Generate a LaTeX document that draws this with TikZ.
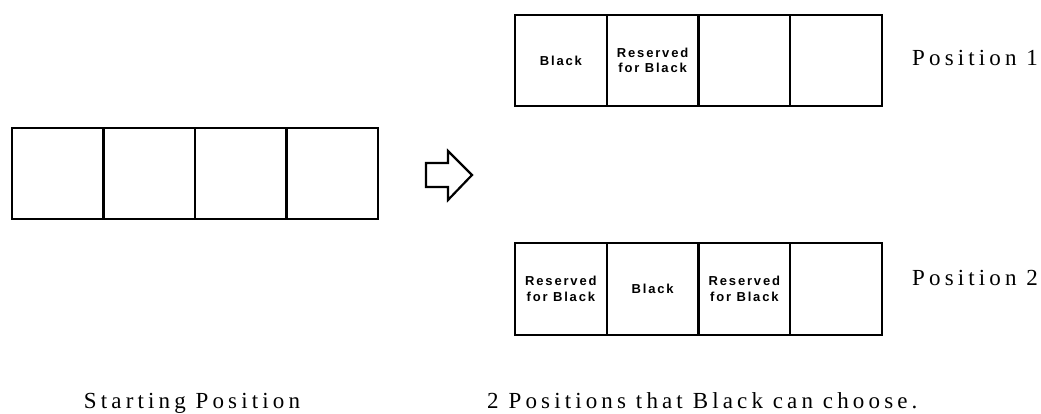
\documentclass[tikz,border=0pt]{standalone}
\usepackage{fontspec}
\setmainfont{Liberation Serif}[LetterSpace=18]
\newfontfamily\cellfont{Liberation Sans}[LetterSpace=14]
\begin{document}
\begin{tikzpicture}[x=1pt,y=-1pt,
  cell/.style={draw, line width=2.2pt, inner sep=0pt, outer sep=0pt,
    anchor=north west, minimum height=91pt, align=center,
    font=\cellfont\bfseries\fontsize{13pt}{15.5pt}\selectfont},
  lcell/.style={cell, minimum width=91.5pt},
  rcell/.style={cell, minimum width=91.75pt},
  caption/.style={inner sep=0pt, font=\fontsize{23pt}{27pt}\selectfont}]
\useasboundingbox (0,0) rectangle (1041,413);

% starting row of four empty squares
\node[lcell] (s1) at (12,128) {};
\node[lcell] (s2) at (103.5,128) {};
\node[lcell] (s3) at (195,128) {};
\node[lcell] (s4) at (286.5,128) {};

% hollow arrow
\draw[line width=2.2pt, line join=miter] (426,163) -- (448,163) -- (448,151)
  -- (472,175) -- (448,200) -- (448,187) -- (426,187) -- cycle;

% position 1
\node[rcell] (a1) at (515,15) {Black};
\node[rcell] (a2) at (606.75,15) {Reserved\\for Black};
\node[rcell] (a3) at (698.5,15) {};
\node[rcell] (a4) at (790.25,15) {};

% position 2
\node[rcell, minimum height=92pt] (b1) at (515,243) {Reserved\\for Black};
\node[rcell, minimum height=92pt] (b2) at (606.75,243) {Black};
\node[rcell, minimum height=92pt] (b3) at (698.5,243) {Reserved\\for Black};
\node[rcell, minimum height=92pt] (b4) at (790.25,243) {};

% labels
\node[caption, anchor=base west] (p1) at (912,65) {Position 1};
\node[caption, anchor=base west] (p2) at (912,285) {Position 2};
\node[caption, anchor=base] (start) at (192,408) {Starting Position};
\node[caption, anchor=base west] (choose) at (487,408) {2 Positions that Black can choose.};
\end{tikzpicture}
\end{document}
